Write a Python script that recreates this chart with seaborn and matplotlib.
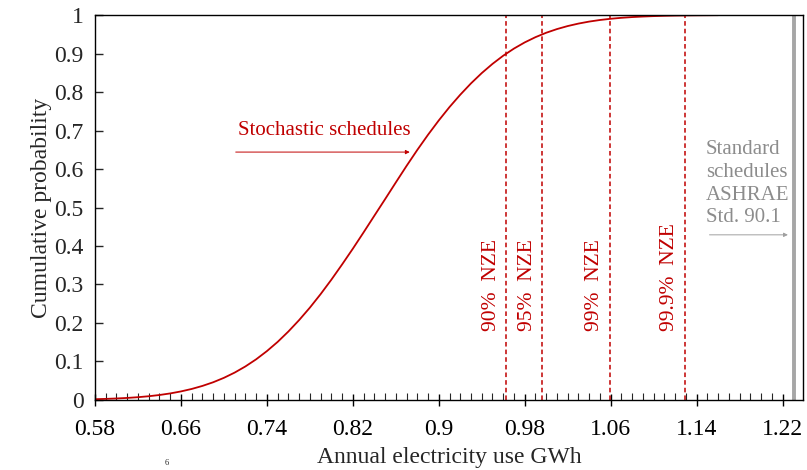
import numpy as np
import pandas as pd
import matplotlib
matplotlib.use("Agg")
import matplotlib.pyplot as plt
from matplotlib.ticker import MultipleLocator, FixedLocator, FuncFormatter
import seaborn as sns

# --- data ---
energy_gwh = [0.58, 0.59, 0.60, 0.61, 0.62, 0.63, 0.64, 0.65, 0.66, 0.67,
              0.68, 0.69, 0.70, 0.71, 0.72, 0.73, 0.74, 0.75, 0.76, 0.77,
              0.78, 0.79, 0.80, 0.81, 0.82, 0.83, 0.84, 0.85, 0.86, 0.87,
              0.88, 0.89, 0.90, 0.91, 0.92, 0.93, 0.94, 0.95, 0.96, 0.97,
              0.98, 0.99, 1.00, 1.01, 1.02, 1.03, 1.04, 1.05, 1.06, 1.07,
              1.08, 1.09, 1.10, 1.11, 1.12, 1.13, 1.14, 1.15, 1.16]
cum_prob = [0.0020, 0.0028, 0.0039, 0.0053, 0.0072, 0.0097, 0.0129, 0.0170, 0.0222, 0.0286,
            0.0365, 0.0460, 0.0575, 0.0711, 0.0871, 0.1056, 0.1269, 0.1508, 0.1778, 0.2075,
            0.2398, 0.2749, 0.3124, 0.3520, 0.3929, 0.4353, 0.4785, 0.5215, 0.5650, 0.6080,
            0.6495, 0.6890, 0.7262, 0.7610, 0.7930, 0.8225, 0.8492, 0.8731, 0.8944, 0.9129,
            0.9289, 0.9425, 0.9540, 0.9635, 0.9714, 0.9778, 0.9830, 0.9871, 0.9903, 0.9928,
            0.9947, 0.9961, 0.9972, 0.9980, 0.9986, 0.9990, 0.9993, 0.9995, 0.9997]

nze_labels = ["90%  NZE", "95%  NZE", "99%  NZE", "99.9%  NZE"]
nze_energy = [0.963, 0.9965, 1.059, 1.1295]

standard_energy = 1.2305
x_ticks = [0.58, 0.66, 0.74, 0.82, 0.90, 0.98, 1.06, 1.14, 1.22]

RED = "#c00000"
GREY = "#a6a6a6"

sns.set_theme(style="ticks")
plt.rcParams['font.family'] = ['Liberation Serif', 'DejaVu Serif']

fig = plt.figure(figsize=(8.07, 4.70), dpi=100)
ax = fig.add_axes([0.1177, 0.149, 0.8773, 0.819])

df = pd.DataFrame({"energy": energy_gwh, "prob": cum_prob})
sns.lineplot(data=df, x="energy", y="prob", color=RED, linewidth=1.3, ax=ax)

for xv, lab in zip(nze_energy, nze_labels):
    ax.axvline(xv, color=RED, linestyle=(0, (3, 2)), linewidth=1.1)
    ax.text(xv - 0.0055, 0.18, lab, rotation=90, ha="right", va="bottom",
            color=RED, fontsize=15.5)

ax.axvline(standard_energy, color=GREY, linewidth=2.8)

# annotations
ax.text(0.713, 0.675, "Stochastic schedules", color=RED, fontsize=15,
        ha="left", va="bottom")
ax.annotate("", xy=(0.873, 0.644), xytext=(0.711, 0.644),
            arrowprops=dict(arrowstyle="-|>", color=RED, lw=0.7,
                            mutation_scale=6, shrinkA=0, shrinkB=0))
ax.text(1.1484, 0.675, "Standard\nschedules\nASHRAE\nStd. 90.1", color="#8c8c8c",
        fontsize=15, ha="left", va="top", linespacing=1.27)
ax.annotate("", xy=(1.225, 0.429), xytext=(1.152, 0.429),
            arrowprops=dict(arrowstyle="-|>", color="#a0a0a0", lw=0.7,
                            mutation_scale=6, shrinkA=0, shrinkB=0))

ax.set_xlim(0.58, 1.239)
ax.set_ylim(0, 1)
ax.xaxis.set_major_locator(FixedLocator(x_ticks))
ax.xaxis.set_minor_locator(MultipleLocator(0.01))
ax.yaxis.set_major_locator(MultipleLocator(0.1))
fmt = FuncFormatter(lambda v, p: f"{v:g}")
ax.xaxis.set_major_formatter(fmt)
ax.yaxis.set_major_formatter(fmt)

ax.tick_params(axis="x", which="major", direction="inout", length=9, width=1,
               labelsize=17, pad=9, colors="black")
ax.tick_params(axis="x", which="minor", direction="in", length=5, width=0.8)
ax.tick_params(axis="y", which="major", direction="in", length=6, width=1,
               labelsize=17, pad=8)

for s in ax.spines.values():
    s.set_visible(True)
    s.set_color("black")
    s.set_linewidth(1.0)

ax.set_xlabel("Annual electricity use GWh", fontsize=17, labelpad=5.5)
ax.set_ylabel("Cumulative probability", fontsize=17, labelpad=2)

fig.text(167 / 807, 1 - 463 / 470, "6", fontsize=6, ha="center", va="center")

fig.savefig("out.png", dpi=100)
